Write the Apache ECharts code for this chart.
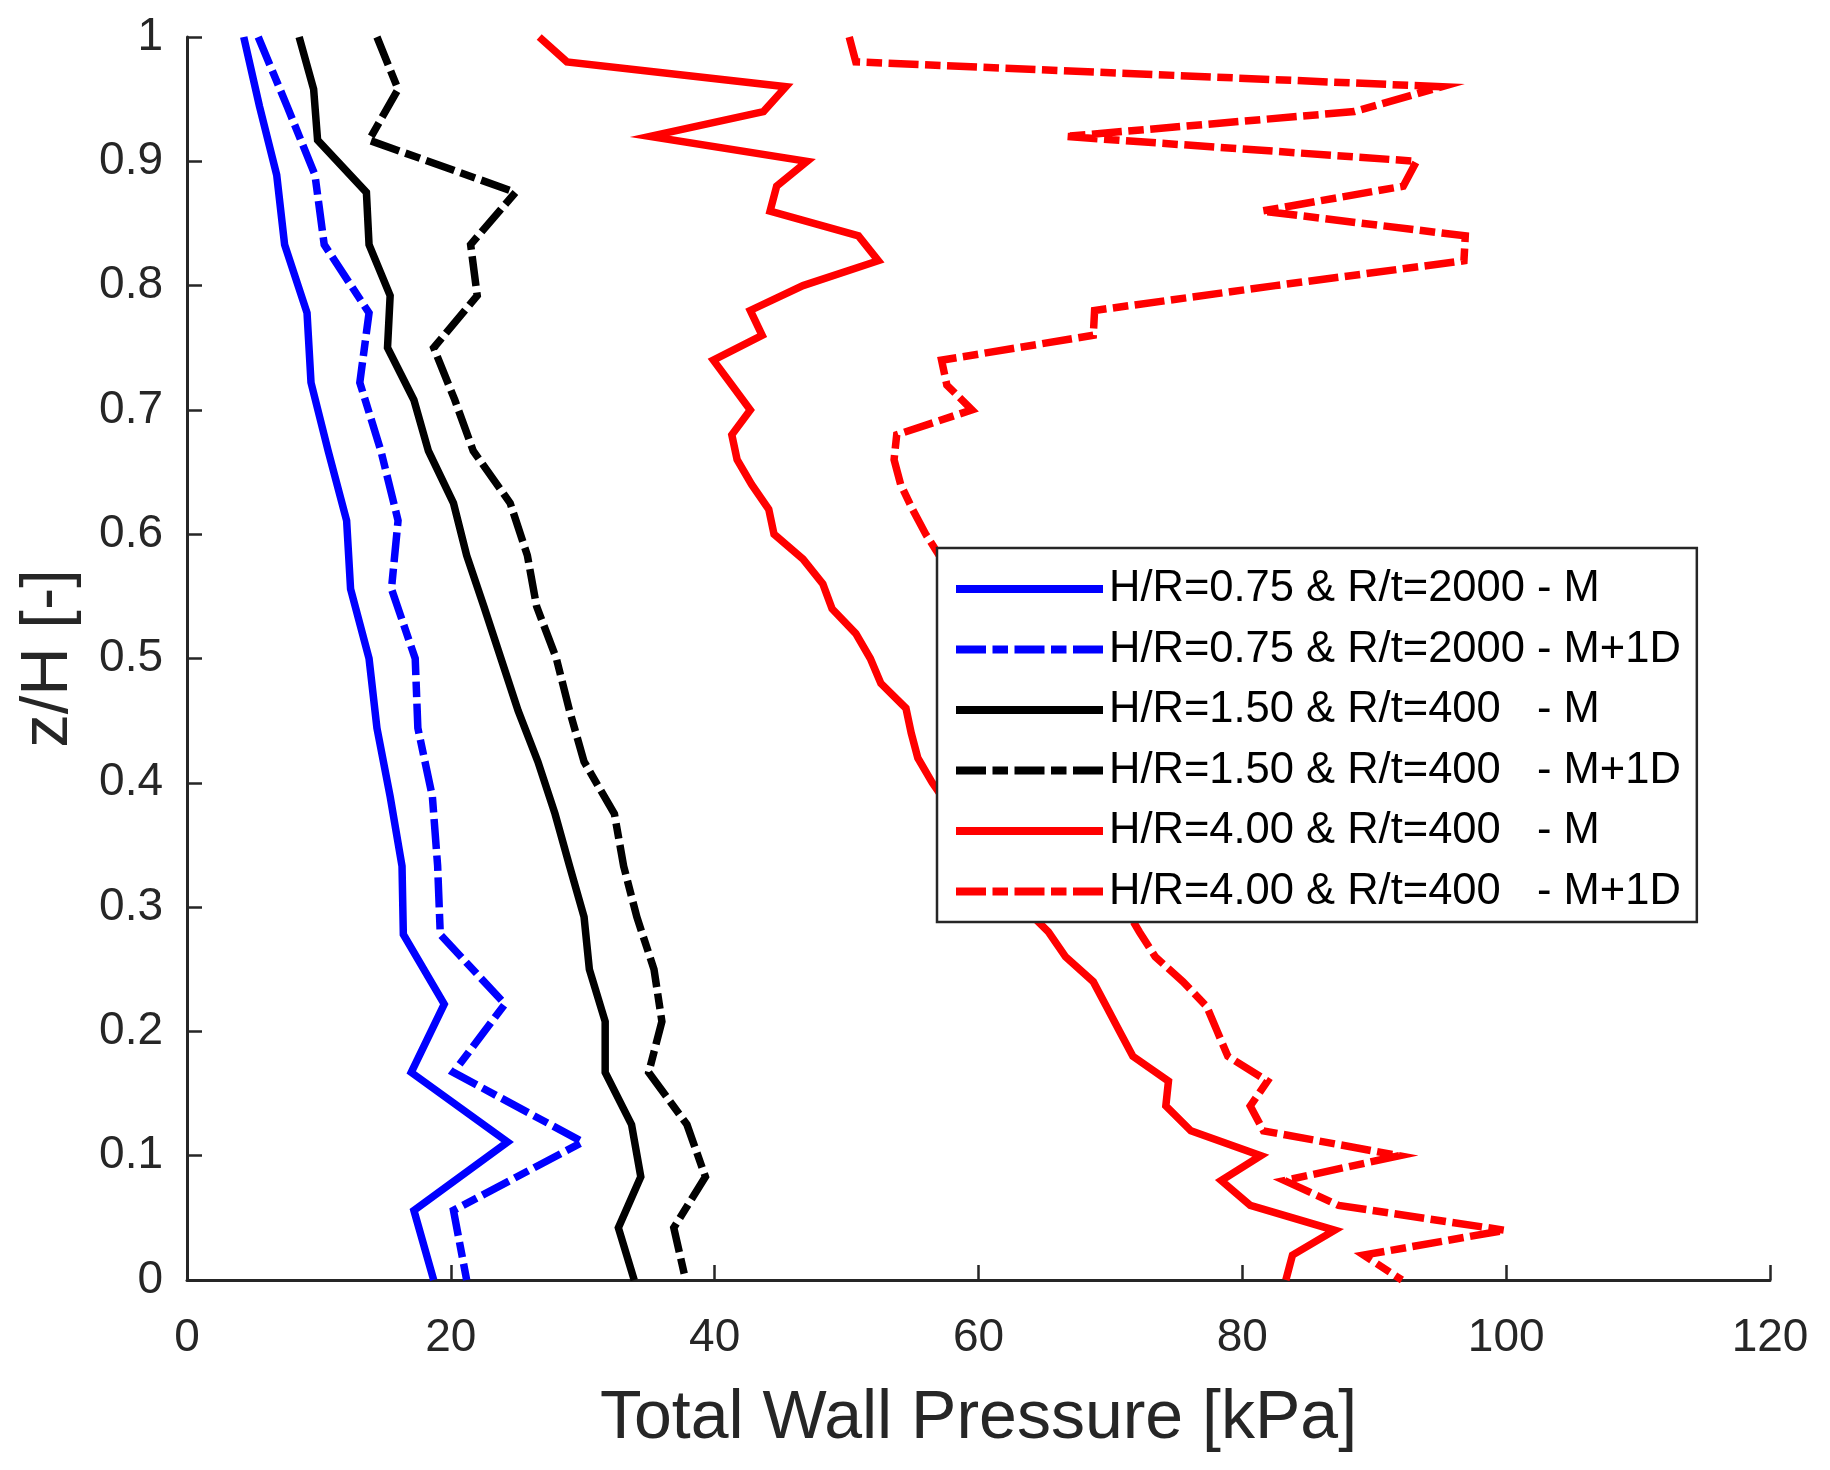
<!DOCTYPE html>
<html>
<head>
<meta charset="utf-8">
<script src="https://cdn.jsdelivr.net/npm/echarts@6/dist/echarts.min.js"></script>
<style>
html,body{margin:0;padding:0;background:#fff;}
#chart{width:1830px;height:1470px;}
</style>
</head>
<body>
<div id="chart"></div>
<script>
// z/H levels
const zBlue = [1, 0.944, 0.889, 0.833, 0.778, 0.722, 0.667, 0.611, 0.556, 0.5, 0.444, 0.389, 0.333, 0.278, 0.222, 0.167, 0.111, 0.056, 0];
const zBlack = [1, 0.958, 0.917, 0.875, 0.833, 0.792, 0.75, 0.708, 0.667, 0.625, 0.583, 0.542, 0.5, 0.458, 0.417, 0.375, 0.333, 0.292, 0.25, 0.208, 0.167, 0.125, 0.083, 0.042, 0];
const zRed = [1, 0.98, 0.96, 0.94, 0.92, 0.9, 0.88, 0.86, 0.84, 0.82, 0.8, 0.78, 0.76, 0.74, 0.72, 0.7, 0.68, 0.66, 0.64, 0.62, 0.6, 0.58, 0.56, 0.54, 0.52, 0.5, 0.48, 0.46, 0.44, 0.42, 0.4, 0.38, 0.36, 0.34, 0.32, 0.3, 0.28, 0.26, 0.24, 0.22, 0.2, 0.18, 0.16, 0.14, 0.12, 0.1, 0.08, 0.06, 0.04, 0.02, 0];

// Total wall pressure [kPa]
const blueM = [4.3, 5.5, 6.8, 7.4, 9.1, 9.4, 10.7, 12.1, 12.4, 13.8, 14.4, 15.4, 16.3, 16.4, 19.5, 17.0, 24.3, 17.2, 18.7];
const blueM1D = [5.4, 7.6, 9.7, 10.4, 13.8, 13.1, 14.7, 16.0, 15.5, 17.3, 17.5, 18.6, 19.0, 19.2, 24.1, 20.2, 30.0, 20.2, 21.2];
const blackM = [8.5, 9.6, 9.9, 13.6, 13.8, 15.4, 15.2, 17.2, 18.3, 20.2, 21.2, 22.5, 23.8, 25.1, 26.6, 27.9, 29.0, 30.1, 30.5, 31.7, 31.7, 33.7, 34.4, 32.7, 33.9];
const blackM1D = [14.4, 16.0, 13.8, 24.9, 21.5, 22.0, 18.7, 20.3, 21.7, 24.5, 25.8, 26.5, 28.0, 29.0, 30.1, 32.4, 33.1, 34.1, 35.4, 36.0, 35.0, 37.9, 39.3, 36.9, 37.8];
const redM = [26.7, 28.8, 45.4, 43.7, 35.1, 47.0, 44.7, 44.2, 50.9, 52.4, 46.7, 42.7, 43.6, 39.9, 41.3, 42.7, 41.3, 41.7, 42.8, 44.1, 44.5, 46.7, 48.2, 48.9, 50.7, 51.8, 52.6, 54.5, 54.9, 55.4, 56.5, 57.8, 59.2, 60.5, 62.1, 63.4, 65.3, 66.6, 68.7, 69.7, 70.7, 71.7, 74.4, 74.2, 76.1, 81.4, 78.4, 80.6, 87.0, 83.8, 83.3];
const redM1D = [50.2, 50.7, 95.1, 88.5, 66.6, 93.2, 92.2, 81.5, 96.9, 96.8, 82.5, 68.8, 68.7, 57.2, 57.6, 59.5, 53.8, 53.6, 54.1, 55.0, 56.0, 57.2, 58.1, 59.0, 60.3, 61.2, 62.0, 63.1, 64.0, 64.9, 65.8, 66.9, 67.7, 68.8, 69.9, 71.1, 72.2, 73.4, 75.5, 77.3, 78.1, 78.9, 81.9, 80.6, 81.6, 91.9, 83.2, 87.3, 99.9, 89.2, 92.1];

const seriesNames = [
  'H/R=0.75 & R/t=2000 - M',
  'H/R=0.75 & R/t=2000 - M+1D',
  'H/R=1.50 & R/t=400   - M',
  'H/R=1.50 & R/t=400   - M+1D',
  'H/R=4.00 & R/t=400   - M',
  'H/R=4.00 & R/t=400   - M+1D'
];
const xTitle = 'Total Wall Pressure [kPa]';
const yTitle = 'z/H [-]';

const FONT = 'Liberation Sans, Arial, Helvetica, sans-serif';
const AX = '#262626';
const DASHDOT = [30, 6.5, 15.5, 6.5];

function pairs(xs, zs) { return xs.map((v, i) => [v, zs[i]]); }
function mk(name, xs, zs, color, dashed) {
  return {
    name: name, type: 'line', data: pairs(xs, zs),
    symbol: 'none', showSymbol: false, smooth: false,
    lineStyle: { color: color, width: 7.5, type: dashed ? DASHDOT : 'solid', join: 'miter', cap: 'butt' },
    itemStyle: { color: color },
    emphasis: { disabled: true },
    z: 2
  };
}

const chart = echarts.init(document.getElementById('chart'), null, { renderer: 'canvas' });
chart.setOption({
  animation: false,
  backgroundColor: '#ffffff',
  textStyle: { fontFamily: FONT },
  grid: { left: 187, right: 60, top: 37, bottom: 190, containLabel: false },
  xAxis: {
    type: 'value', min: 0, max: 120, interval: 20,
    name: xTitle, nameLocation: 'middle', nameGap: 105,
    nameTextStyle: { fontSize: 68, color: AX, fontFamily: FONT },
    axisLine: { show: true, onZero: false, lineStyle: { color: AX, width: 3 } },
    axisTick: { show: true, inside: true, length: 15, lineStyle: { color: AX, width: 2.5 } },
    axisLabel: { fontSize: 46, color: AX, margin: 35, fontFamily: FONT },
    splitLine: { show: false }
  },
  yAxis: {
    type: 'value', min: 0, max: 1, interval: 0.1,
    name: yTitle, nameLocation: 'middle', nameGap: 105,
    nameTextStyle: { fontSize: 67, color: AX, fontFamily: FONT },
    axisLine: { show: true, onZero: false, lineStyle: { color: AX, width: 3 } },
    axisTick: { show: true, inside: true, length: 15, lineStyle: { color: AX, width: 2.5 } },
    axisLabel: { fontSize: 46, color: AX, margin: 24, fontFamily: FONT },
    splitLine: { show: false }
  },
  legend: {
    orient: 'vertical', left: 937, top: 548,
    padding: [15, 16, 4.5, 15], itemGap: 8.5,
    itemWidth: 147, itemHeight: 20,
    backgroundColor: '#ffffff', borderColor: AX, borderWidth: 2.5, borderRadius: 0,
    textStyle: { fontSize: 43.5, lineHeight: 44, color: '#000000', fontFamily: FONT, padding: [8, 0, 0, 1] },
    itemStyle: { opacity: 0 },
    lineStyle: { width: 8 },
    data: seriesNames,
    z: 10
  },
  series: [
    mk(seriesNames[0], blueM, zBlue, '#0000ff', false),
    mk(seriesNames[1], blueM1D, zBlue, '#0000ff', true),
    mk(seriesNames[2], blackM, zBlack, '#000000', false),
    mk(seriesNames[3], blackM1D, zBlack, '#000000', true),
    mk(seriesNames[4], redM, zRed, '#ff0000', false),
    mk(seriesNames[5], redM1D, zRed, '#ff0000', true)
  ]
});
</script>
</body>
</html>
